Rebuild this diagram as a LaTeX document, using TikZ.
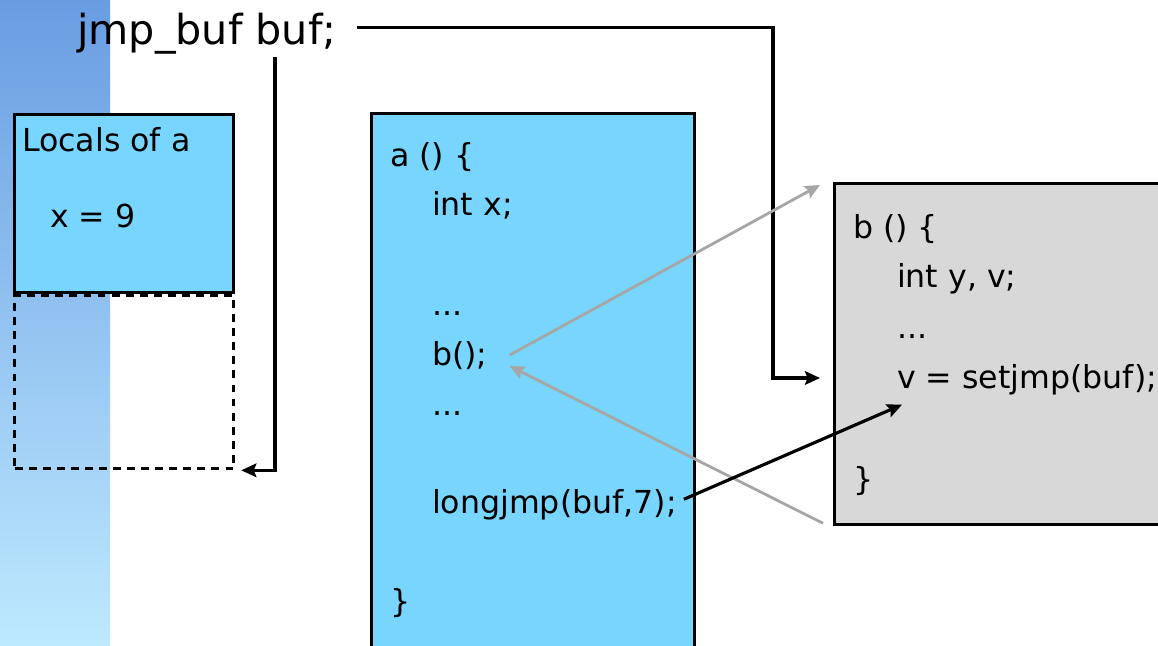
\documentclass[tikz,border=0pt]{standalone}
\usepackage{fontspec}
\setmainfont{DejaVu Sans}
\usetikzlibrary{arrows.meta}
\definecolor{framebg}{RGB}{120,214,254}
\definecolor{calleebg}{RGB}{216,216,216}
\definecolor{callgray}{RGB}{166,166,166}
\tikzset{code/.style={anchor=base west,inner sep=1pt,font=\fontsize{18}{20}\selectfont}}
\tikzset{frame/.style={draw,line width=1.9pt,anchor=north west,inner sep=0pt}}
\tikzset{ptr/.style={line width=1.8pt,-{Stealth[length=0.3cm,width=0.27cm,inset=0.05cm]}}}
\tikzset{call/.style={draw=callgray,line width=1.6pt,-{Stealth[length=0.3cm,width=0.27cm,inset=0.05cm]}}}

\begin{document}
\begin{tikzpicture}[x=0.02cm,y=-0.02cm]
  \useasboundingbox (0,0) rectangle (1158,645);
  \clip (0,0) rectangle (1158,645);
  % slide band on the left
  \shade[top color={rgb,255:red,105;green,157;blue,226},
         middle color={rgb,255:red,128;green,190;blue,245},
         bottom color={rgb,255:red,190;green,233;blue,255}] (0,0) rectangle (110,645);

  % stack: frame of a and the empty slot under it
  \node[frame,dash pattern=on 4.5pt off 3.5pt,minimum width=4.38cm,minimum height=3.46cm] (slot) at (13,294) {};
  \node[frame,fill=framebg,minimum width=4.38cm,minimum height=3.56cm] (locals) at (13,113) {};
  \node[code] (localsname) at (20,152) {Locals of a};
  \node[code] (xval) at (48,227) {x = 9};

  % code of a
  \node[frame,fill=framebg,minimum width=6.46cm,minimum height=11cm] (aframe) at (370,112) {};
  \node[code] (ahead) at (388,167) {a () \{};
  \node[code] (intx) at (430,215) {int x;};
  \node[code] (adots1) at (430,315) {...};
  \node[code] (bcall) at (430,365) {b();};
  \node[code] (adots2) at (430,415) {...};
  \node[code] (longjmp) at (430,513) {longjmp(buf,7);};
  \node[code] (aend) at (388,612) {\}};

  % code of b
  \node[frame,fill=calleebg,minimum width=8cm,minimum height=6.82cm] (bframe) at (833,182) {};
  \node[code] (bhead) at (851,238) {b () \{};
  \node[code] (intyv) at (895,287) {int y, v;};
  \node[code] (bdots) at (895,338) {...};
  \node[code] (setjmp) at (895,388) {v = setjmp(buf);};
  \node[code] (bend) at (851,490) {\}};

  \node[code,font=\fontsize{23.5}{26}\selectfont] (jmpbuf) at (75,45) {jmp\_buf buf;};

  \coordinate (turn) at (773,378);
  \coordinate (bufref) at (275,57);

  \draw[ptr] ([shift={(0.36cm,0.13cm)}]jmpbuf.east) -| (turn) -- ([xshift=-0.26cm]bframe.west |- turn);
  \draw[ptr] (bufref) |- ([xshift=0.12cm]slot.south east);

  \draw[call] ([xshift=0.4cm]bcall.east) -- ([shift={(-0.26cm,-0.06cm)}]bframe.north west);
  \draw[call] ([shift={(-0.2cm,0.06cm)}]bframe.south west) -- ([shift={(0.4cm,-0.22cm)}]bcall.east);

  \draw[ptr] ([shift={(0.1cm,0.1cm)}]longjmp.east) -- ([shift={(0.14cm,-0.16cm)}]setjmp.south west);
\end{tikzpicture}
\end{document}
